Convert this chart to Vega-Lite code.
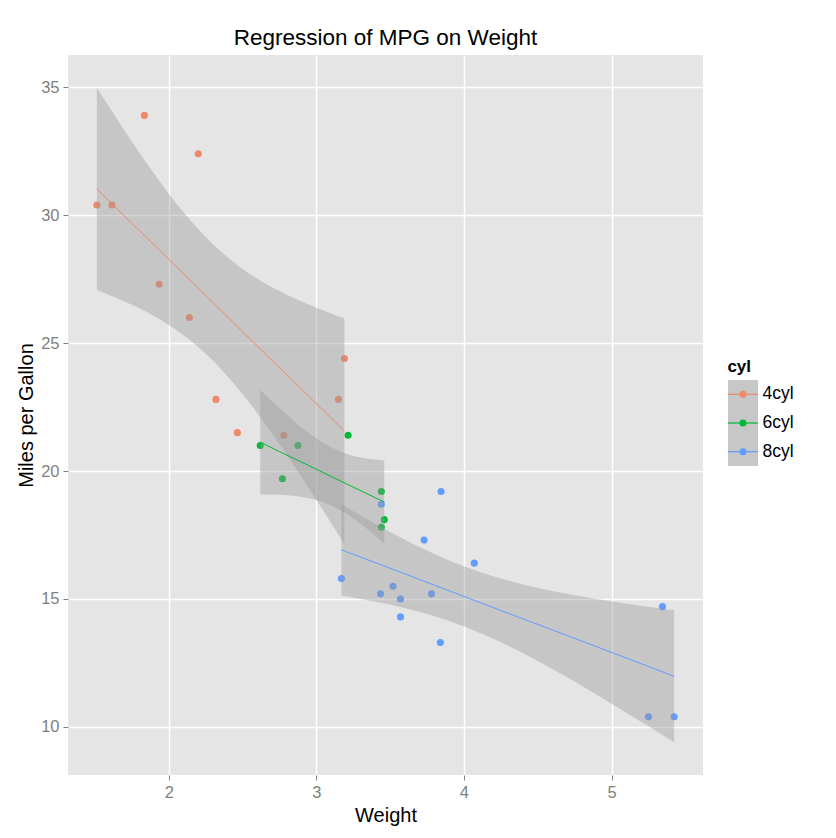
{
  "$schema": "https://vega.github.io/schema/vega-lite/v6.json",
  "padding": {"left": 16, "top": 26, "right": 5, "bottom": 5},
  "background": "white",
  "datasets": {
    "cars": [
      {"wt": 2.620, "mpg": 21.0, "cyl": "6cyl"},
      {"wt": 2.875, "mpg": 21.0, "cyl": "6cyl"},
      {"wt": 2.320, "mpg": 22.8, "cyl": "4cyl"},
      {"wt": 3.215, "mpg": 21.4, "cyl": "6cyl"},
      {"wt": 3.440, "mpg": 18.7, "cyl": "8cyl"},
      {"wt": 3.460, "mpg": 18.1, "cyl": "6cyl"},
      {"wt": 3.570, "mpg": 14.3, "cyl": "8cyl"},
      {"wt": 3.190, "mpg": 24.4, "cyl": "4cyl"},
      {"wt": 3.150, "mpg": 22.8, "cyl": "4cyl"},
      {"wt": 3.440, "mpg": 19.2, "cyl": "6cyl"},
      {"wt": 3.440, "mpg": 17.8, "cyl": "6cyl"},
      {"wt": 4.070, "mpg": 16.4, "cyl": "8cyl"},
      {"wt": 3.730, "mpg": 17.3, "cyl": "8cyl"},
      {"wt": 3.780, "mpg": 15.2, "cyl": "8cyl"},
      {"wt": 5.250, "mpg": 10.4, "cyl": "8cyl"},
      {"wt": 5.424, "mpg": 10.4, "cyl": "8cyl"},
      {"wt": 5.345, "mpg": 14.7, "cyl": "8cyl"},
      {"wt": 2.200, "mpg": 32.4, "cyl": "4cyl"},
      {"wt": 1.615, "mpg": 30.4, "cyl": "4cyl"},
      {"wt": 1.835, "mpg": 33.9, "cyl": "4cyl"},
      {"wt": 2.465, "mpg": 21.5, "cyl": "4cyl"},
      {"wt": 3.520, "mpg": 15.5, "cyl": "8cyl"},
      {"wt": 3.435, "mpg": 15.2, "cyl": "8cyl"},
      {"wt": 3.840, "mpg": 13.3, "cyl": "8cyl"},
      {"wt": 3.845, "mpg": 19.2, "cyl": "8cyl"},
      {"wt": 1.935, "mpg": 27.3, "cyl": "4cyl"},
      {"wt": 2.140, "mpg": 26.0, "cyl": "4cyl"},
      {"wt": 1.513, "mpg": 30.4, "cyl": "4cyl"},
      {"wt": 3.170, "mpg": 15.8, "cyl": "8cyl"},
      {"wt": 2.770, "mpg": 19.7, "cyl": "6cyl"},
      {"wt": 3.570, "mpg": 15.0, "cyl": "8cyl"},
      {"wt": 2.780, "mpg": 21.4, "cyl": "4cyl"}
    ],
    "fit": [
      {"cyl": "4cyl", "wt": 1.513, "fit": 31.03, "lo": 27.08, "hi": 34.98},
      {"cyl": "4cyl", "wt": 1.7, "fit": 29.97, "lo": 26.63, "hi": 33.31},
      {"cyl": "4cyl", "wt": 1.9, "fit": 28.84, "lo": 26.06, "hi": 31.63},
      {"cyl": "4cyl", "wt": 2.1, "fit": 27.71, "lo": 25.31, "hi": 30.11},
      {"cyl": "4cyl", "wt": 2.286, "fit": 26.66, "lo": 24.39, "hi": 28.94},
      {"cyl": "4cyl", "wt": 2.5, "fit": 25.45, "lo": 23.01, "hi": 27.90},
      {"cyl": "4cyl", "wt": 2.7, "fit": 24.32, "lo": 21.47, "hi": 27.18},
      {"cyl": "4cyl", "wt": 2.9, "fit": 23.20, "lo": 19.76, "hi": 26.63},
      {"cyl": "4cyl", "wt": 3.1, "fit": 22.07, "lo": 17.97, "hi": 26.16},
      {"cyl": "4cyl", "wt": 3.19, "fit": 21.56, "lo": 17.14, "hi": 25.97},
      {"cyl": "6cyl", "wt": 2.62, "fit": 21.13, "lo": 19.08, "hi": 23.17},
      {"cyl": "6cyl", "wt": 2.75, "fit": 20.76, "lo": 19.07, "hi": 22.46},
      {"cyl": "6cyl", "wt": 2.9, "fit": 20.35, "lo": 18.99, "hi": 21.70},
      {"cyl": "6cyl", "wt": 3.05, "fit": 19.93, "lo": 18.78, "hi": 21.09},
      {"cyl": "6cyl", "wt": 3.117, "fit": 19.74, "lo": 18.61, "hi": 20.88},
      {"cyl": "6cyl", "wt": 3.2, "fit": 19.51, "lo": 18.35, "hi": 20.68},
      {"cyl": "6cyl", "wt": 3.33, "fit": 19.15, "lo": 17.80, "hi": 20.50},
      {"cyl": "6cyl", "wt": 3.46, "fit": 18.79, "lo": 17.16, "hi": 20.42},
      {"cyl": "8cyl", "wt": 3.17, "fit": 16.92, "lo": 15.14, "hi": 18.70},
      {"cyl": "8cyl", "wt": 3.5, "fit": 16.20, "lo": 14.77, "hi": 17.62},
      {"cyl": "8cyl", "wt": 3.8, "fit": 15.54, "lo": 14.32, "hi": 16.76},
      {"cyl": "8cyl", "wt": 4.0, "fit": 15.10, "lo": 13.92, "hi": 16.28},
      {"cyl": "8cyl", "wt": 4.3, "fit": 14.44, "lo": 13.17, "hi": 15.72},
      {"cyl": "8cyl", "wt": 4.6, "fit": 13.79, "lo": 12.26, "hi": 15.31},
      {"cyl": "8cyl", "wt": 4.9, "fit": 13.13, "lo": 11.26, "hi": 15.00},
      {"cyl": "8cyl", "wt": 5.2, "fit": 12.47, "lo": 10.20, "hi": 14.73},
      {"cyl": "8cyl", "wt": 5.424, "fit": 11.98, "lo": 9.40, "hi": 14.56}
    ],
    "keys": [
      {"cyl": "4cyl"},
      {"cyl": "6cyl"},
      {"cyl": "8cyl"}
    ]
  },
  "spacing": 24,
  "hconcat": [
    {
      "width": 635,
      "height": 720,
      "view": {"fill": "#E5E5E5", "stroke": null},
      "title": {
        "text": "Regression of MPG on Weight",
        "fontSize": 22.5,
        "fontWeight": "normal",
        "color": "black",
        "anchor": "middle",
        "offset": 6
      },
      "resolve": {"axis": {"x": "independent", "y": "independent"}},
      "layer": [
        {
          "data": {"name": "cars"},
          "mark": {"type": "point", "filled": true, "opacity": 1, "size": 50},
          "encoding": {
            "x": {
              "field": "wt",
              "type": "quantitative",
              "scale": {"domain": [1.3175, 5.6195], "nice": false, "zero": false},
              "axis": {
                "title": "Weight",
                "values": [2, 3, 4, 5],
                "titlePadding": 5
              }
            },
            "y": {
              "field": "mpg",
              "type": "quantitative",
              "scale": {"domain": [8.12, 36.26], "nice": false, "zero": false},
              "axis": {
                "title": "Miles per Gallon",
                "values": [10, 15, 20, 25, 30, 35],
                "titlePadding": 4
              }
            },
            "color": {"field": "cyl", "type": "nominal", "legend": null}
          }
        },
        {
          "data": {"name": "fit"},
          "mark": {"type": "area", "color": "#999999", "opacity": 0.4, "interpolate": "monotone"},
          "encoding": {
            "x": {
              "field": "wt",
              "type": "quantitative",
              "axis": {
                "orient": "top",
                "values": [1.5, 2.5, 3.5, 4.5, 5.5],
                "labels": false,
                "ticks": false,
                "domain": false,
                "title": null,
                "gridColor": "#F2F2F2",
                "gridWidth": 0.8
              }
            },
            "y": {
              "field": "lo",
              "type": "quantitative",
              "axis": {
                "orient": "right",
                "values": [12.5, 17.5, 22.5, 27.5, 32.5],
                "labels": false,
                "ticks": false,
                "domain": false,
                "title": null,
                "gridColor": "#F2F2F2",
                "gridWidth": 0.8
              }
            },
            "y2": {"field": "hi"},
            "detail": {"field": "cyl"}
          }
        },
        {
          "data": {"name": "fit"},
          "mark": {"type": "line", "strokeWidth": 1},
          "encoding": {
            "x": {"field": "wt", "type": "quantitative", "axis": null},
            "y": {"field": "fit", "type": "quantitative", "axis": null},
            "color": {"field": "cyl", "type": "nominal", "legend": null}
          }
        }
      ]
    },
    {
      "spacing": 0,
      "vconcat": [
        {
          "width": 30,
          "height": 303,
          "data": {"values": []},
          "mark": "point",
          "encoding": {}
        },
        {
          "width": 30,
          "height": 86,
          "view": {"fill": "#C7C7C7", "stroke": null},
          "title": {
            "text": "cyl",
            "fontSize": 17,
            "fontWeight": "bold",
            "color": "black",
            "anchor": "start",
            "offset": 4
          },
          "data": {"name": "keys"},
          "encoding": {
            "y": {
              "field": "cyl",
              "type": "nominal",
              "scale": {"domain": ["4cyl", "6cyl", "8cyl"]},
              "axis": {
                "orient": "right",
                "title": null,
                "ticks": false,
                "domain": false,
                "grid": false,
                "labelColor": "black",
                "labelFontSize": 17.5,
                "labelPadding": 4
              }
            },
            "color": {"field": "cyl", "type": "nominal", "legend": null}
          },
          "layer": [
            {"mark": {"type": "rule", "strokeWidth": 1.2}},
            {"mark": {"type": "point", "filled": true, "opacity": 1, "size": 50}}
          ]
        }
      ]
    }
  ],
  "resolve": {"scale": {"color": "shared"}},
  "config": {
    "font": "Liberation Sans",
    "view": {"stroke": null},
    "range": {"category": ["#F0886A", "#00BA38", "#619CFF"]},
    "axis": {
      "grid": true,
      "gridColor": "white",
      "gridWidth": 1.5,
      "domain": false,
      "tickColor": "#7F7F7F",
      "tickSize": 5,
      "labelColor": "#7F7F7F",
      "labelFontSize": 16.5,
      "labelPadding": 4,
      "titleFontSize": 20,
      "titleFontWeight": "normal",
      "titleColor": "black"
    }
  }
}
